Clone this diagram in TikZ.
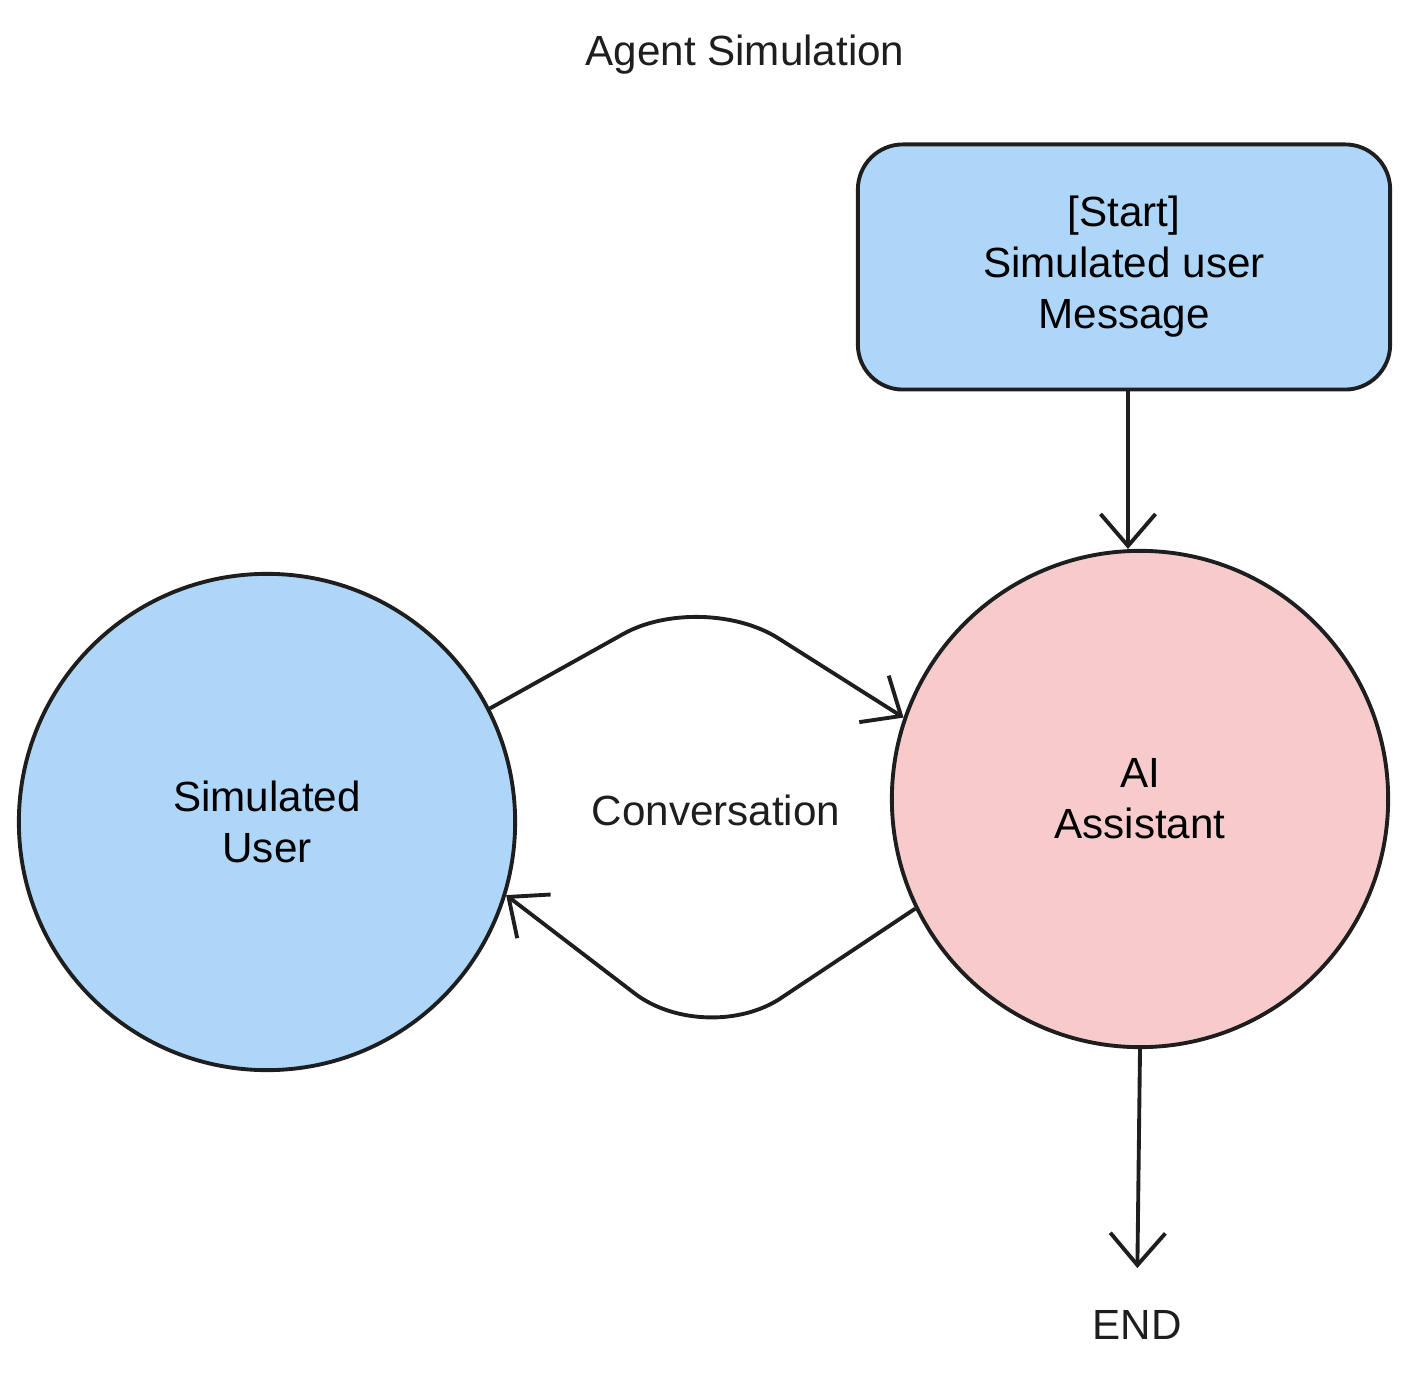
\documentclass[tikz,border=0pt]{standalone}
\usepackage{fontspec}
\setmainfont{Liberation Sans}
\usetikzlibrary{arrows.meta}
\definecolor{inkline}{HTML}{1E1E1E}
\definecolor{userblue}{HTML}{AED6F8}
\definecolor{aipink}{HTML}{F7CBCB}
\tikzset{agent/.style={%
        circle,
        minimum size=4.96cm,
        align=center,
        line width=1.1pt,
        draw=inkline,
        font=\fontsize{12}{14.5}\selectfont}}
\tikzset{startbox/.style={%
        rectangle,rounded corners=0.45cm,
        minimum width=5.32cm,minimum height=2.45cm,
        align=center,
        line width=1.1pt,
        draw=inkline,fill=userblue,
        font=\fontsize{12}{14.5}\selectfont}}
\tikzset{link/.style={line width=1.1pt,draw=inkline,rounded corners=0.9cm,
        -{Straight Barb[length=3.2mm,width=5.5mm,line width=1.1pt]}}}
\tikzset{label/.style={text=inkline,font=\fontsize{12}{14.5}\selectfont}}

\begin{document}
\begin{tikzpicture}[x=0.01cm,y=-0.01cm]
  \useasboundingbox (0,0) rectangle (1416,1392);
  \node [label] (title) at (745,55) {Agent Simulation};
  \node [startbox] (start) at (1124,267) {[Start]\\Simulated user\\Message};
  \node [agent,fill=aipink] (ai) at (1140,799) {AI\\Assistant};
  \node [agent,fill=userblue] (su) at (267,822) {Simulated\\User};
  \node [label] (conv) at (716,810) {Conversation};
  \node [label] (end) at (1137,1325) {END};
  \coordinate (peak) at (702,590);
  \coordinate (dip) at (706,1048);
  \draw [link] (start.south -| 1128,0) -- (ai.north -| 1128,0);
  \draw [link] (su.27) -- (peak) -- (ai.161);
  \draw [link] (ai.206) -- (dip) -- (su.343);
  \draw [link,shorten >=0.3cm] (ai.south) -- (end.north);
\end{tikzpicture}
\end{document}
